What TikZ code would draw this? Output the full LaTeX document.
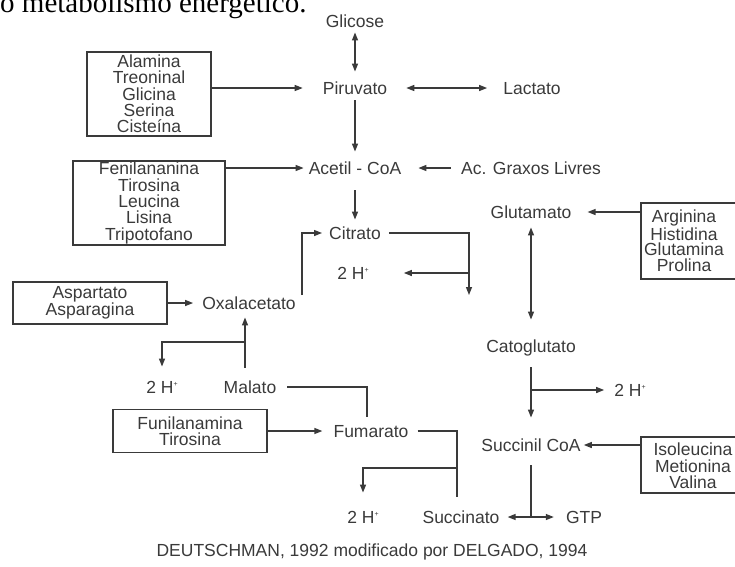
\documentclass[tikz,border=0pt]{standalone}
\usepackage{fontspec}
\setmainfont{Liberation Serif}
\setsansfont{Liberation Sans}
\usetikzlibrary{arrows.meta}
\definecolor{tinta}{RGB}{58,58,58}
\newcommand{\hmais}{\raisebox{7pt}{\fontsize{7}{7}\selectfont +}}

\begin{document}
\begin{tikzpicture}[x=1pt, y=-1pt,
	every node/.style={font=\sffamily\fontsize{17.5}{16.3}\selectfont, text=tinta, inner sep=0pt},
	mol/.style={text height=12.5pt, text depth=0pt},
	caixa/.style={draw=tinta, line width=1.3pt, align=center},
	liga/.style={draw=tinta, line width=1.3pt},
	seta/.style={liga, -{Triangle[length=8pt,width=6pt]}},
	dupla/.style={liga, {Triangle[length=8pt,width=6pt]}-{Triangle[length=8pt,width=6pt]}}]
	
	\useasboundingbox (0,0) rectangle (735,566);
	
	\node[font=\rmfamily\fontsize{29}{29}\selectfont, text=black, anchor=base west] (titulo) at (0,12.5) {o metabolismo energético.};
	
	\node[mol] (glicose) at (355,21) {Glicose};
	\node[mol] (piruvato) at (355,88) {Piruvato};
	\node[mol] (lactato) at (532,88) {Lactato};
	\node[mol] (acetil) at (355,168) {Acetil - CoA};
	\node[mol] (graxos) at (531,168) {Ac. Graxos Livres};
	\node[mol] (citrato) at (355,233) {Citrato};
	\node[mol] (hA) at (353,273) {2 H\hmais};
	\node[mol] (oxal) at (249,303) {Oxalacetato};
	\node[mol] (hB) at (162,387) {2 H\hmais};
	\node[mol] (malato) at (250,387) {Malato};
	\node[mol] (fumarato) at (371,431) {Fumarato};
	\node[mol] (hC) at (363,517) {2 H\hmais};
	\node[mol] (succinato) at (461,517) {Succinato};
	\node[mol] (gtp) at (584,517) {GTP};
	\node[mol] (glutamato) at (531,212) {Glutamato};
	\node[mol] (cato) at (531,346) {Catoglutato};
	\node[mol] (hD) at (630,390) {2 H\hmais};
	\node[mol] (succoa) at (531,445) {Succinil CoA};
	
	\node[caixa, minimum width=124pt, minimum height=84pt] (grupoA) at (149,94) {Alamina\\Treoninal\\Glicina\\Serina\\Cisteína};
	\node[caixa, minimum width=152pt, minimum height=84pt] (grupoB) at (149,203) {Fenilananina\\Tirosina\\Leucina\\Lisina\\Tripotofano};
	\node[caixa, minimum width=154pt, minimum height=42pt] (grupoC) at (90,303) {Aspartato\\Asparagina};
	\node[caixa, minimum width=154pt, minimum height=43pt] (grupoD) at (190,431) {Funilanamina\\Tirosina};
	\node[caixa, minimum width=120pt, minimum height=76pt] (grupoE) at (701,241) {};
	\node[align=center, font=\sffamily\fontsize{17.5}{15.8}\selectfont] (listaE) at (684,241) {Arginina\\Histidina\\Glutamina\\Prolina};
	\node[caixa, minimum width=120pt, minimum height=56pt] (grupoF) at (701,465) {};
	\node[align=center] (listaF) at (693,466) {Isoleucina\\Metionina\\Valina};
	
	\node (fonte) at (372,552) {DEUTSCHMAN, 1992 modificado por DELGADO, 1994};
	
	\draw[dupla, shorten <=5pt, shorten >=10pt] (glicose) -- (piruvato);
	\draw[dupla, shorten <=19pt, shorten >=16pt] (piruvato) -- (lactato);
	\draw[seta, shorten >=20pt] (grupoA.east |- piruvato) -- (piruvato);
	\draw[seta, shorten <=6pt, shorten >=10pt] (piruvato) -- (acetil);
	\draw[seta, shorten >=5pt] (grupoB.east |- acetil) -- (acetil);
	\draw[seta, shorten <=10pt, shorten >=17pt] (graxos) -- (acetil);
	\draw[seta, shorten <=16pt, shorten >=7pt] (acetil) -- (citrato);
	
	\coordinate (citfim) at (469,295);
	\draw[seta, shorten <=8pt] (citrato) -| (citfim);
	\draw[seta, shorten >=35pt] (citfim |- hA) -- (hA);
	\draw[seta, shorten >=7pt] ([shift={(6,-8)}]oxal.east) |- (citrato);
	\draw[seta, shorten >=9pt] (grupoC) -- (oxal);
	
	\coordinate (malbr) at (245,342);
	\draw[seta] ([shift={(-5,-13)}]malato.north) -- ([shift={(-4,8)}]oxal.south);
	\draw[seta, shorten >=14pt] (malbr) -| (hB);
	\draw[liga, shorten <=11pt, shorten >=8pt] (malato) -| ([shift={(-4,0)}]fumarato.north);
	\draw[seta, shorten >=11pt] (grupoD) -- (fumarato);
	
	\coordinate (fumbr) at (457,468);
	\draw[liga, shorten <=9pt, shorten >=14pt] (fumarato) -| ([shift={(-4,0)}]succinato.north);
	\draw[seta, shorten >=18pt] (fumbr) -| (hC);
	
	\draw[seta, shorten >=16pt] (grupoE.west |- glutamato) -- (glutamato);
	\draw[dupla, shorten <=9pt, shorten >=20pt] (glutamato) -- (cato);
	\draw[seta, shorten <=15pt, shorten >=21pt] (cato) -- (succoa);
	\coordinate (catbr) at (531,390);
	\draw[seta, shorten >=10pt] (catbr) -- (hD);
	\draw[seta, shorten >=3pt] (grupoF.west |- succoa) -- (succoa);
	\draw[liga, shorten <=14pt] (succoa) -- (succoa |- succinato);
	\draw[dupla, shorten <=8pt, shorten >=12pt] (succinato) -- (gtp);
	
\end{tikzpicture}
\end{document}
